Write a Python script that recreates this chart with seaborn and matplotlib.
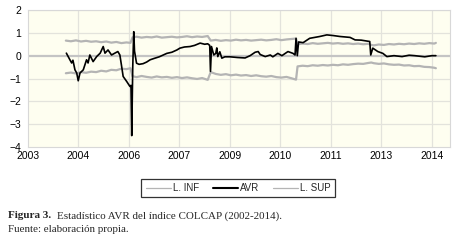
import matplotlib
matplotlib.use("Agg")
import matplotlib.pyplot as plt
import seaborn as sns
from matplotlib.lines import Line2D

# ---- data (x in tick-index units) ----
tick_labels = ["2003", "2004", "2006", "2007", "2009", "2010", "2011", "2013", "2014"]

band_x = [0.75, 0.85, 0.95, 1.05, 1.15, 1.25, 1.35, 1.45, 1.55, 1.65, 1.75, 1.85, 1.95, 2.03,
          2.07, 2.15, 2.25, 2.35, 2.45, 2.55, 2.65, 2.75, 2.85, 2.95, 3.05, 3.15, 3.25, 3.35, 3.45, 3.56,
          3.62, 3.72, 3.82, 3.92, 4.02, 4.12, 4.22, 4.32, 4.42, 4.52, 4.62, 4.72, 4.82, 4.92, 5.02, 5.12, 5.22, 5.31,
          5.34, 5.44, 5.54, 5.64, 5.74, 5.84, 5.94, 6.04, 6.14, 6.24, 6.34, 6.44, 6.54, 6.64, 6.74, 6.80,
          6.85, 6.95, 7.05, 7.15, 7.25, 7.35, 7.45, 7.55, 7.65, 7.75, 7.85, 7.95, 8.05, 8.08]

l_sup = [0.66, 0.63, 0.67, 0.62, 0.65, 0.61, 0.63, 0.59, 0.62, 0.57, 0.60, 0.55, 0.58, 0.56,
         0.80, 0.83, 0.79, 0.82, 0.80, 0.84, 0.79, 0.81, 0.83, 0.80, 0.82, 0.85, 0.81, 0.84, 0.82, 0.86,
         0.66, 0.69, 0.65, 0.68, 0.66, 0.70, 0.67, 0.69, 0.66, 0.68, 0.70, 0.67, 0.69, 0.72, 0.68, 0.71, 0.73, 0.75,
         0.50, 0.53, 0.51, 0.55, 0.52, 0.54, 0.56, 0.53, 0.55, 0.52, 0.54, 0.51, 0.53, 0.50, 0.52, 0.47,
         0.45, 0.49, 0.47, 0.51, 0.49, 0.52, 0.50, 0.53, 0.51, 0.54, 0.52, 0.55, 0.53, 0.56]

l_inf = [-0.77, -0.74, -0.78, -0.72, -0.75, -0.70, -0.72, -0.66, -0.69, -0.62, -0.64, -0.57, -0.59, -0.55,
         -0.90, -0.94, -0.89, -0.93, -0.96, -0.91, -0.95, -0.93, -0.97, -0.94, -0.98, -0.95, -0.99, -1.02, -0.98, -1.06,
         -0.72, -0.80, -0.84, -0.81, -0.86, -0.83, -0.87, -0.85, -0.89, -0.86, -0.90, -0.92, -0.89, -0.94, -0.96, -0.93, -0.99, -1.05,
         -0.47, -0.44, -0.46, -0.42, -0.44, -0.41, -0.43, -0.40, -0.42, -0.38, -0.40, -0.37, -0.35, -0.36, -0.32, -0.30,
         -0.33, -0.36, -0.34, -0.38, -0.40, -0.39, -0.43, -0.42, -0.46, -0.45, -0.49, -0.50, -0.53, -0.55]

avr_x = [0.76, 0.83, 0.865, 0.89, 0.93, 0.965, 0.995, 1.03, 1.095, 1.16, 1.19, 1.225, 1.29, 1.36,
         1.43, 1.49, 1.525, 1.585, 1.655, 1.72, 1.78, 1.82, 1.855, 1.885, 1.955, 2.02, 2.04, 2.055,
         2.075, 2.095, 2.11, 2.15, 2.2, 2.28, 2.35, 2.42, 2.5, 2.6, 2.75, 2.85, 2.95, 3.01, 3.1, 3.21,
         3.3, 3.41, 3.5, 3.56, 3.60, 3.615, 3.635, 3.68, 3.72, 3.74, 3.76, 3.80, 3.84, 3.9, 4.0, 4.15,
         4.30, 4.40, 4.50, 4.56, 4.6, 4.7, 4.8, 4.85, 4.95, 5.03, 5.15, 5.25, 5.29, 5.31, 5.335, 5.36,
         5.45, 5.58, 5.78, 5.92, 6.05, 6.18, 6.38, 6.48, 6.6, 6.77, 6.79, 6.83, 6.93, 7.03, 7.11, 7.25,
         7.41, 7.55, 7.66, 7.86, 8.0, 8.08]

avr_y = [0.11, -0.18, -0.32, -0.20, -0.62, -0.76, -1.10, -0.76, -0.62, -0.18, -0.32, 0.03, -0.26, -0.04,
         0.11, 0.40, 0.11, 0.25, 0.03, 0.11, 0.18, 0.03, -0.47, -0.91, -1.13, -1.35, -1.30, -3.5,
         -0.5, 1.05, 0.2, -0.33, -0.38, -0.35, -0.28, -0.18, -0.12, -0.05, 0.10, 0.15, 0.25, 0.33, 0.38, 0.40,
         0.45, 0.55, 0.50, 0.52, 0.45, -0.69, 0.40, 0.03, 0.10, 0.34, -0.04, 0.17, -0.11, -0.05, -0.05, -0.08,
         -0.10, 0.00, 0.15, 0.18, 0.05, -0.04, 0.03, -0.05, 0.10, 0.0, 0.18, 0.10, 0.03, 0.76, 0.0, 0.6,
         0.57, 0.76, 0.84, 0.91, 0.88, 0.84, 0.80, 0.69, 0.68, 0.62, 0.03, 0.33, 0.18, 0.10, -0.04, 0.0,
         -0.04, 0.02, 0.0, -0.05, 0.0, 0.0]

# ---- styling ----
sns.set_theme(style="white")
plt.rcParams["font.family"] = ["Liberation Sans", "DejaVu Sans"]

fig = plt.figure(figsize=(4.55, 2.42), dpi=100)
fig.patch.set_facecolor("white")
ax = fig.add_axes([28 / 455, 1 - 147 / 242, (450 - 28) / 455, (147 - 10) / 242])
ax.set_facecolor("#fefef0")

gray = "#b4b4b4"
for yv in [-3, -2, -1, 1, 2]:
    ax.axhline(yv, color="#e3e3dc", lw=0.9, zorder=0)
for xv in range(1, 9):
    ax.axvline(xv, color="#e3e3dc", lw=0.9, zorder=0)
ax.axhline(0, color="#c4c4c4", lw=1.6, zorder=1)

sns.lineplot(x=band_x, y=l_inf, ax=ax, color=gray, lw=1.6, estimator=None, sort=False, zorder=2)
sns.lineplot(x=band_x, y=l_sup, ax=ax, color=gray, lw=1.6, estimator=None, sort=False, zorder=2)
sns.lineplot(x=avr_x, y=avr_y, ax=ax, color="black", lw=1.2, estimator=None, sort=False, zorder=3)

ax.set_xlim(0, 8.36)
ax.set_ylim(-4, 2)
ax.set_xticks(range(len(tick_labels)))
ax.set_xticklabels(tick_labels)
ax.set_yticks([-4, -3, -2, -1, 0, 1, 2])
ax.set_yticklabels(["\u22124", "\u22123", "\u22122", "\u22121", "0", "1", "2"])
ax.tick_params(axis="both", length=0, labelsize=7.5, colors="black", pad=3)
ax.tick_params(axis="y", pad=5)
for s in ax.spines.values():
    s.set_color("#d8d8d8")
    s.set_linewidth(0.8)
ax.set_xlabel("")
ax.set_ylabel("")

handles = [Line2D([], [], color=gray, lw=0.9),
           Line2D([], [], color="black", lw=1.5),
           Line2D([], [], color=gray, lw=0.9)]
leg = fig.legend(handles, ["L. INF", "AVR", "L. SUP"], loc="center",
                 bbox_to_anchor=(238 / 455, 1 - 188 / 242), ncol=3, fontsize=7,
                 frameon=True, fancybox=False, handlelength=2.6, handletextpad=0.2,
                 columnspacing=1.4, borderpad=0.45)
leg.get_frame().set_edgecolor("black")
leg.get_frame().set_linewidth(0.9)

serif = ["Liberation Serif", "DejaVu Serif"]
fig.text(8 / 455, 1 - 216 / 242, "Figura 3.", fontsize=8.0, fontweight="bold",
         family=serif, va="center", ha="left")
fig.text(57 / 455, 1 - 216 / 242, "Estadístico AVR del índice COLCAP (2002-2014).", fontsize=7.9,
         family=serif, va="center", ha="left")
fig.text(8 / 455, 1 - 230 / 242, "Fuente: elaboración propia.", fontsize=7.9,
         family=serif, va="center", ha="left")

fig.savefig("out.png", dpi=100)
